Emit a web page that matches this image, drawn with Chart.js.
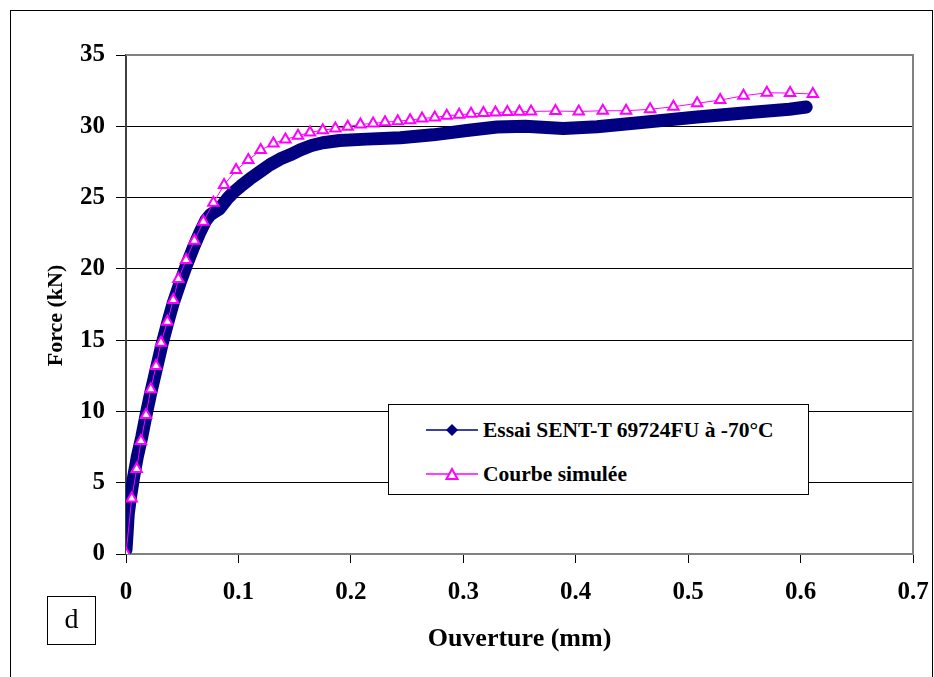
<!DOCTYPE html>
<html>
<head>
<meta charset="utf-8">
<script src="https://cdn.jsdelivr.net/npm/chart.js@4"></script>
<style>
  body { margin: 0; background: #fff; }
  #wrap { position: relative; width: 934px; height: 677px; overflow: hidden; font-family: 'Liberation Serif', 'Times New Roman', serif; }
  #frame { position: absolute; left: 10px; top: 10px; width: 923px; height: 700px; border: 1px solid #000; box-sizing: border-box; }
  #legend { position: absolute; left: 388px; top: 404px; width: 421px; height: 91px; border: 1px solid #000; background: #fff; box-sizing: border-box; }
  .row { position: absolute; left: 37px; height: 26px; display: flex; align-items: center; font-weight: bold; font-size: 21.5px; white-space: nowrap; }
  .row svg { margin-right: 5px; }
  #tag { position: absolute; left: 47px; top: 596px; width: 49px; height: 49px; border: 1px solid #000; box-sizing: border-box; text-align: center; font-size: 28px; line-height: 44px; }
  canvas { position: absolute; left: 0; top: 0; }
</style>
</head>
<body>
<div id="wrap">
  <div id="frame"></div>
  <canvas id="chart" width="934" height="677"></canvas>
  <div id="legend">
    <div class="row" style="top:12px">
      <svg width="52" height="14"><line x1="0" y1="7" x2="52" y2="7" stroke="#000080" stroke-width="1.5"/><polygon points="26,1 32,7 26,13 20,7" fill="#000080"/></svg>
      <span id="lab1"></span>
    </div>
    <div class="row" style="top:56px">
      <svg width="52" height="14"><line x1="0" y1="7" x2="52" y2="7" stroke="#FF00FF" stroke-width="1.5"/><polygon points="26,2 31.5,12 20.5,12" fill="#fff" stroke="#FF00FF" stroke-width="2"/></svg>
      <span id="lab2"></span>
    </div>
  </div>
  <div id="tag">d</div>
</div>
<script>
const seriesNames = ['Essai SENT-T 69724FU à -70°C', 'Courbe simulée'];
const xTitle = 'Ouverture (mm)';
const yTitle = 'Force (kN)';
const xTickLabels = ['0', '0.1', '0.2', '0.3', '0.4', '0.5', '0.6', '0.7'];
const yTickLabels = ['0', '5', '10', '15', '20', '25', '30', '35'];

const essaiX = [0, 0.001, 0.002, 0.004, 0.007, 0.010, 0.014, 0.018, 0.022, 0.027, 0.032, 0.037, 0.042, 0.048,
  0.054, 0.060, 0.066, 0.071, 0.075, 0.079, 0.083, 0.087, 0.091, 0.096, 0.102, 0.110, 0.119, 0.128, 0.137,
  0.146, 0.155, 0.165, 0.175, 0.190, 0.214, 0.244, 0.273, 0.303, 0.330, 0.355, 0.389, 0.419, 0.463, 0.508,
  0.552, 0.590, 0.605];
const essaiF = [0.3, 1.5, 2.8, 4.0, 5.5, 6.8, 8.2, 9.8, 11.3, 13.0, 14.7, 16.2, 17.6, 19.0,
  20.3, 21.5, 22.6, 23.4, 23.8, 24.0, 24.2, 24.6, 25.0, 25.4, 25.8, 26.3, 26.8, 27.3, 27.7,
  28.0, 28.35, 28.65, 28.85, 29.0, 29.1, 29.2, 29.4, 29.7, 29.95, 30.0, 29.85, 29.97, 30.3, 30.65,
  30.95, 31.2, 31.35];

// simulation
const simX = [0, 0.0051, 0.0095, 0.0133, 0.0178, 0.022, 0.0267, 0.0311, 0.0368, 0.042, 0.0466, 0.0534,
  0.0608, 0.0688, 0.0777, 0.0872, 0.0979, 0.1088, 0.1198, 0.1311, 0.1418, 0.153, 0.1637, 0.175, 0.1862,
  0.1972, 0.2085, 0.2198, 0.2304, 0.2417, 0.2527, 0.2633, 0.2746, 0.2853, 0.2963, 0.3069, 0.3179, 0.3286,
  0.3392, 0.3499, 0.3603, 0.382, 0.4027, 0.4241, 0.4448, 0.4662, 0.4869, 0.508, 0.5285, 0.5492, 0.57,
  0.5907, 0.6109];
const simF = [0, 3.9, 5.96, 7.92, 9.75, 11.55, 13.18, 14.82, 16.29, 17.81, 19.28, 20.62,
  21.97, 23.3, 24.64, 25.88, 26.93, 27.63, 28.33, 28.8, 29.08, 29.33, 29.57, 29.73, 29.85,
  29.97, 30.13, 30.2, 30.29, 30.36, 30.43, 30.55, 30.62, 30.74, 30.81, 30.88, 30.93, 30.97,
  31.0, 31.02, 31.04, 31.07, 31.04, 31.09, 31.09, 31.19, 31.37, 31.61, 31.84, 32.14, 32.35,
  32.33, 32.26];

document.getElementById('lab1').textContent = seriesNames[0];
document.getElementById('lab2').textContent = seriesNames[1];

const serif = "'Liberation Serif', 'Times New Roman', serif";

// bord gris du cadre du tracé (haut et droite)
const plotFrame = {
  id: 'plotFrame',
  beforeDatasetsDraw(chart) {
    const { ctx, chartArea: a } = chart;
    ctx.save();
    ctx.strokeStyle = '#808080';
    ctx.lineWidth = 2;
    ctx.beginPath();
    ctx.moveTo(a.left, a.top);
    ctx.lineTo(a.right, a.top);
    ctx.lineTo(a.right, a.bottom);
    ctx.stroke();
    ctx.restore();
  }
};

new Chart(document.getElementById('chart'), {
  type: 'scatter',
  data: {
    datasets: [
      {
        label: seriesNames[0],
        data: essaiX.map((x, i) => ({ x, y: essaiF[i] })),
        order: 2,
        showLine: true,
        borderColor: '#000080',
        backgroundColor: '#000080',
        borderWidth: 13,
        borderJoinStyle: 'round',
        borderCapStyle: 'round',
        pointRadius: 0
      },
      {
        label: seriesNames[1],
        data: simX.map((x, i) => ({ x, y: simF[i] })),
        order: 1,
        showLine: true,
        borderColor: '#FF00FF',
        borderWidth: 1,
        pointStyle: 'triangle',
        pointRadius: 6,
        pointBorderWidth: 2,
        pointBorderColor: '#FF00FF',
        pointBackgroundColor: '#fff'
      }
    ]
  },
  options: {
    responsive: false,
    animation: false,
    events: [],
    layout: { padding: { left: 0, top: 55, right: 21, bottom: 0 } },
    plugins: { legend: { display: false }, tooltip: { enabled: false } },
    scales: {
      x: {
        type: 'linear',
        min: 0,
        max: 0.7,
        afterFit: s => { s.height = 123; s.paddingRight = 10; },
        ticks: {
          stepSize: 0.1,
          padding: 15,
          color: '#000',
          font: { family: serif, size: 25, weight: 'bold' },
          callback: (v, i) => xTickLabels[i]
        },
        grid: { drawOnChartArea: false, drawTicks: true, tickLength: 9, color: '#000' },
        border: { color: '#808080', width: 2 },
        title: {
          display: true,
          text: xTitle,
          color: '#000',
          font: { family: serif, size: 26, weight: 'bold' },
          padding: { top: 0, bottom: 22 }
        }
      },
      y: {
        min: 0,
        max: 35,
        afterFit: s => { s.width = 126; },
        ticks: {
          stepSize: 5,
          padding: 11,
          color: '#000',
          font: { family: serif, size: 25, weight: 'bold' },
          callback: (v, i) => yTickLabels[i]
        },
        grid: { color: '#000', lineWidth: 1, tickLength: 10 },
        border: { color: '#404040', width: 2 },
        title: {
          display: true,
          text: yTitle + '\u2002\u2002',
          color: '#000',
          font: { family: serif, size: 22, weight: 'bold' },
          padding: { top: 43, bottom: 0 }
        }
      }
    }
  },
  plugins: [plotFrame]
});
</script>
</body>
</html>
